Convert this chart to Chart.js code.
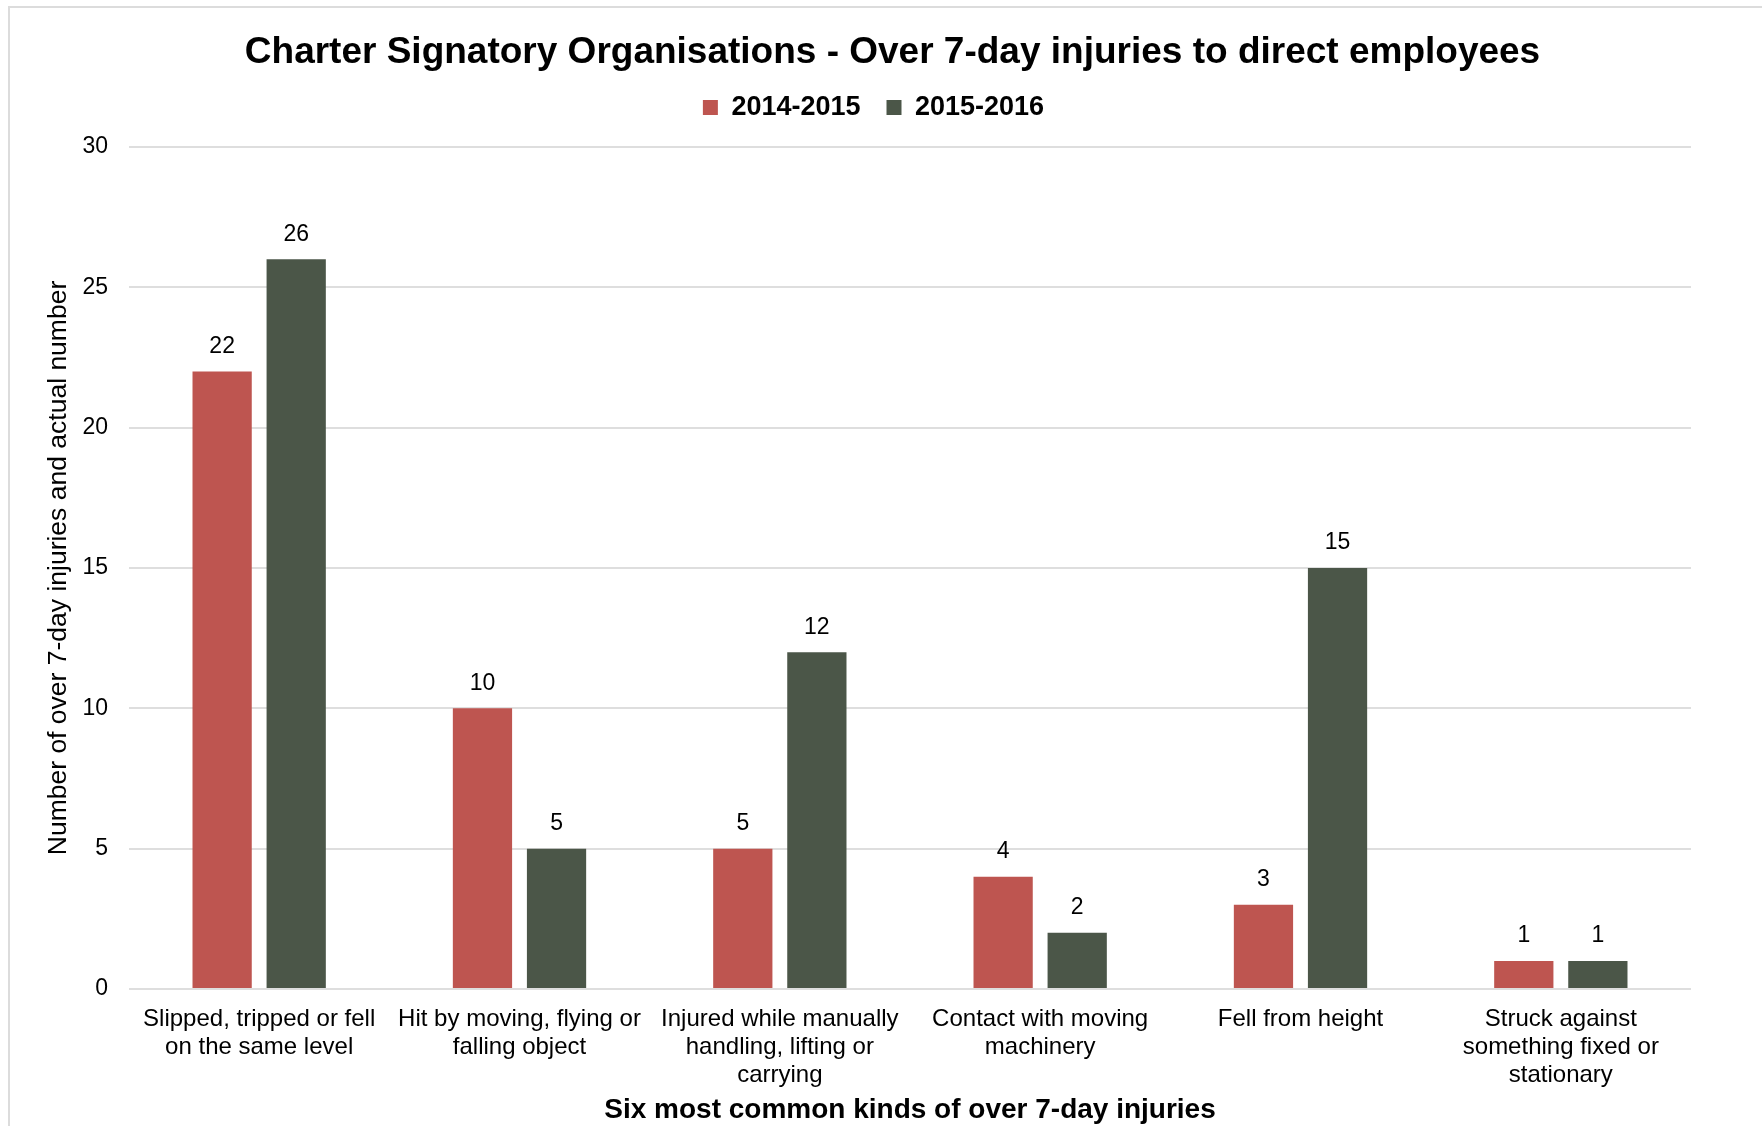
<!DOCTYPE html>
<html>
<head>
<meta charset="utf-8">
<title>Over 7-day injuries</title>
<script src="https://cdn.jsdelivr.net/npm/chart.js@4/dist/chart.umd.min.js"></script>
<style>
  html, body { margin: 0; padding: 0; background: #fff; }
  #wrap { position: relative; width: 1762px; height: 1126px; overflow: hidden; }
  #frame { position: absolute; left: 8px; top: 6px; right: -10px; bottom: -10px;
           border-top: 2px solid #dcdcdc; border-left: 2px solid #dcdcdc; pointer-events: none; }
</style>
</head>
<body>
<div id="wrap">
  <canvas id="bar-chart" width="1762" height="1126"></canvas>
  <div id="frame"></div>
</div>
<script>
// Dados do gráfico
const categorias = [
  ['Slipped, tripped or fell', 'on the same level'],
  ['Hit by moving, flying or', 'falling object'],
  ['Injured while manually', 'handling, lifting or', 'carrying'],
  ['Contact with moving', 'machinery'],
  ['Fell from height'],
  ['Struck against', 'something fixed or', 'stationary']
];
const series = ['2014-2015', '2015-2016'];
const valores2014 = [22, 10, 5, 4, 3, 1];
const valores2015 = [26, 5, 12, 2, 15, 1];
const ticksY = [0, 5, 10, 15, 20, 25, 30];

const fonte = '"Liberation Sans", Arial, sans-serif';
Chart.defaults.font.family = fonte;
Chart.defaults.color = '#000';

// Rótulos de valor acima das barras
const rotulos = {
  id: 'rotulos',
  afterDatasetsDraw(chart) {
    const ctx = chart.ctx;
    ctx.save();
    ctx.font = '23px ' + fonte;
    ctx.fillStyle = '#000';
    ctx.textAlign = 'center';
    ctx.textBaseline = 'middle';
    chart.data.datasets.forEach((ds, i) => {
      chart.getDatasetMeta(i).data.forEach((bar, j) => {
        ctx.fillText(ds.data[j], bar.x, bar.y - 25);
      });
    });
    ctx.restore();
  }
};

// Ajuste fino da posição do título e da legenda
const ajuste = {
  id: 'ajuste',
  afterLayout(chart) {
    const t = chart.titleBlock, l = chart.legend;
    t.left += 27; t.right += 27;
    l.left += 8; l.right += 8;
    l.top -= 16; l.bottom -= 16;
  }
};

const config = {
  type: 'bar',
  data: {
    labels: categorias,
    datasets: [{
      label: series[0],
      data: valores2014,
      backgroundColor: '#BE5550',
      categoryPercentage: 0.569,
      barPercentage: 0.8
    }, {
      label: series[1],
      data: valores2015,
      backgroundColor: '#4B5648',
      categoryPercentage: 0.569,
      barPercentage: 0.8
    }]
  },
  options: {
    responsive: false,
    animation: false,
    layout: { padding: { top: 0, left: 40, right: 71, bottom: 0 } },
    plugins: {
      title: {
        display: true,
        text: 'Charter Signatory Organisations - Over 7-day injuries to direct employees',
        font: { size: 37, weight: 'bold', lineHeight: 1 },
        color: '#000',
        padding: { top: 34.5, bottom: 12.5 }
      },
      legend: {
        position: 'top',
        labels: {
          font: { size: 27, weight: 'bold' },
          boxWidth: 15,
          boxHeight: 15,
          padding: 26,
          color: '#000'
        }
      },
      tooltip: { enabled: false }
    },
    scales: {
      x: {
        grid: { display: false },
        border: { display: false },
        ticks: { font: { size: 24, lineHeight: 1.15 }, padding: 9, maxRotation: 0, autoSkip: false },
        title: {
          display: true,
          text: 'Six most common kinds of over 7-day injuries',
          font: { size: 28, weight: 'bold', lineHeight: 1.1 },
          padding: { top: 0, bottom: 0 }
        },
        afterFit(axis) { axis.height = 137; }
      },
      y: {
        min: 0,
        max: 30,
        border: { display: false },
        grid: { color: '#dedede', lineWidth: 2, drawTicks: false },
        ticks: { font: { size: 23 }, padding: 21 },
        afterBuildTicks(axis) { axis.ticks = ticksY.map(v => ({ value: v })); },
        title: {
          display: true,
          text: 'Number of over 7-day injuries and actual number',
          font: { size: 26.5, lineHeight: 1.2 },
          padding: { top: 3, bottom: 4 }
        },
        afterFit(axis) { axis.width = 89; }
      }
    }
  },
  plugins: [rotulos, ajuste]
};

window.onload = function () {
  const ctx = document.getElementById('bar-chart').getContext('2d');
  new Chart(ctx, config);
};
</script>
</body>
</html>
